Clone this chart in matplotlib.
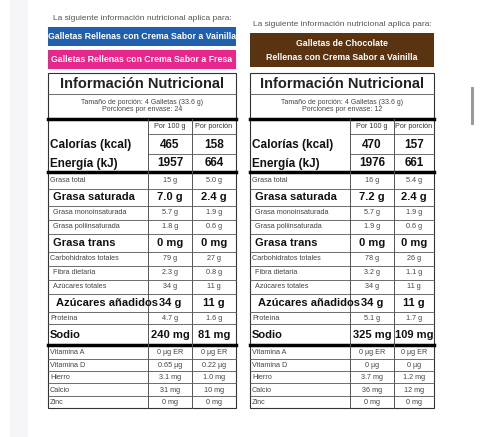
import matplotlib
matplotlib.use('Agg')
import matplotlib.pyplot as plt
from matplotlib.patches import Rectangle

plt.rcParams['font.family'] = ['Liberation Sans Narrow', 'Liberation Sans', 'DejaVu Sans']

labels = ["Grasa total", "Grasa saturada", "Grasa monoinsaturada", "Grasa poliinsaturada",
          "Grasa trans", "Carbohidratos totales", "Fibra dietaria", "Azúcares totales",
          "Azúcares añadidos", "Proteína", "Sodio"]
bold_rows = {"Grasa saturada", "Grasa trans", "Azúcares añadidos", "Sodio"}
vanilla_100 = ["15 g", "7.0 g", "5.7 g", "1.8 g", "0 mg", "79 g", "2.3 g", "34 g", "34 g", "4.7 g", "240 mg"]
vanilla_por = ["5.0 g", "2.4 g", "1.9 g", "0.6 g", "0 mg", "27 g", "0.8 g", "11 g", "11 g", "1.6 g", "81 mg"]
choco_100 = ["16 g", "7.2 g", "5.7 g", "1.9 g", "0 mg", "78 g", "3.2 g", "34 g", "34 g", "5.1 g", "325 mg"]
choco_por = ["5.4 g", "2.4 g", "1.9 g", "0.6 g", "0 mg", "26 g", "1.1 g", "11 g", "11 g", "1.7 g", "109 mg"]

vit_labels = ["Vitamina A", "Vitamina D", "Hierro", "Calcio", "Zinc"]
vanilla_vit_100 = ["0 µg ER", "0.65 µg", "3.1 mg", "31 mg", "0 mg"]
vanilla_vit_por = ["0 µg ER", "0.22 µg", "1.0 mg", "10 mg", "0 mg"]
choco_vit_100 = ["0 µg ER", "0 µg", "3.7 mg", "36 mg", "0 mg"]
choco_vit_por = ["0 µg ER", "0 µg", "1.2 mg", "12 mg", "0 mg"]

energy = {"vanilla": (("465", "158"), ("1957", "664")), "choco": (("470", "157"), ("1976", "661"))}
porciones = {"vanilla": 24, "choco": 12}

fig = plt.figure(figsize=(4.8, 4.37), dpi=100)
ax = fig.add_axes([0, 0, 1, 1])
ax.set_xlim(0, 480)
ax.set_ylim(437, 0)
ax.axis('off')
ax.add_patch(Rectangle((10, 0), 18, 437, color='#f6f6f8', lw=0))
ax.add_patch(Rectangle((471, 87), 3, 38, color='#9a9a9a', lw=0))

row_edges = [172, 189, 206, 220, 234, 252, 266, 280, 294, 312, 324, 345]
vit_edges = [345, 359, 371, 383, 396, 408]

def panel(x0, x1, c1, c2, key, v100, vpor, vv100, vvpor):
    k = 'k'
    ax.add_patch(Rectangle((x0, 73), x1 - x0, 408 - 73, fill=False, ec='#333', lw=0.8))
    ax.text((x0 + x1) / 2, 84, "Información Nutricional", ha='center', va='center',
            fontsize=10.5, fontweight='bold', color='#222')
    ax.plot([x0, x1], [94, 94], color='#555', lw=0.6)
    ax.text((x0 + x1) / 2, 102, "Tamaño de porción: 4 Galletas (33.6 g)", ha='center', va='center', fontsize=5, color='#444')
    ax.text((x0 + x1) / 2, 109.5, f"Porciones por envase: {porciones[key]}", ha='center', va='center', fontsize=5, color='#444')
    ax.plot([x0, x1], [119, 119], color=k, lw=2.5)
    ax.plot([x0, x1], [172, 172], color=k, lw=2.5)
    ax.plot([x0, x1], [345, 345], color=k, lw=2.5)
    ax.plot([c1, c1], [119, 408], color='#555', lw=0.7)
    ax.plot([c2, c2], [119, 408], color='#555', lw=0.7)
    ax.plot([c1, x1], [134, 134], color='#555', lw=0.6)
    ax.text((c1 + c2) / 2, 127, "Por 100 g", ha='center', va='center', fontsize=5.2, color='#333')
    ax.text((c2 + x1) / 2, 127, "Por porción", ha='center', va='center', fontsize=5.2, color='#333')
    for i, (lab, vals) in enumerate(zip(["Calorías (kcal)", "Energía (kJ)"], energy[key])):
        y = 145 + i * 18.5
        ax.text(x0 + 2, y, lab, ha='left', va='center', fontsize=8.5, fontweight='bold', color='#111')
        ax.text((c1 + c2) / 2, y, vals[0], ha='center', va='center', fontsize=8.5, fontweight='bold', color='#111')
        ax.text((c2 + x1) / 2, y, vals[1], ha='center', va='center', fontsize=8.5, fontweight='bold', color='#111')
    ax.plot([c1, x1], [153.5, 153.5], color='#555', lw=0.6)
    for i, lab in enumerate(labels):
        top, bot = row_edges[i], row_edges[i + 1]
        y = (top + bot) / 2
        if i > 0:
            ax.plot([x0, x1], [top, top], color='#555', lw=0.6)
        b = lab in bold_rows
        fs = 8 if b else 5.2
        indent = 2
        if lab in ("Grasa saturada", "Grasa trans"):
            indent = 5
        elif lab == "Azúcares añadidos":
            indent = 8
        elif lab.startswith("Grasa m") or lab.startswith("Grasa p") or lab in ("Fibra dietaria", "Azúcares totales"):
            indent = 5
        w = 'bold' if b else 'normal'
        col = '#111' if b else '#444'
        ax.text(x0 + indent, y, lab, ha='left', va='center', fontsize=fs, fontweight=w, color=col)
        ax.text((c1 + c2) / 2, y, v100[i], ha='center', va='center', fontsize=fs, fontweight=w, color=col)
        ax.text((c2 + x1) / 2, y, vpor[i], ha='center', va='center', fontsize=fs, fontweight=w, color=col)
    for i, lab in enumerate(vit_labels):
        top, bot = vit_edges[i], vit_edges[i + 1]
        y = (top + bot) / 2 + 0.5
        if i > 0:
            ax.plot([x0, x1], [top, top], color='#555', lw=0.6)
        ax.text(x0 + 2, y, lab, ha='left', va='center', fontsize=5.2, color='#444')
        ax.text((c1 + c2) / 2, y, vv100[i], ha='center', va='center', fontsize=5.2, color='#444')
        ax.text((c2 + x1) / 2, y, vvpor[i], ha='center', va='center', fontsize=5.2, color='#444')

ax.text(142, 18, "La siguiente información nutricional aplica para:", ha='center', va='center', fontsize=6, color='#555')
ax.add_patch(Rectangle((48, 27), 188, 19, color='#1f5fae', lw=0))
ax.text(142, 36.5, "Galletas Rellenas con Crema Sabor a Vainilla", ha='center', va='center', fontsize=6.3, fontweight='bold', color='white')
ax.add_patch(Rectangle((48, 50), 188, 19, color='#e6288c', lw=0))
ax.text(142, 59.5, "Galletas Rellenas con Crema Sabor a Fresa", ha='center', va='center', fontsize=6.3, fontweight='bold', color='white')

ax.text(342, 25, "La siguiente información nutricional aplica para:", ha='center', va='center', fontsize=6, color='#555')
ax.add_patch(Rectangle((250, 33), 184, 34, color='#5a3310', lw=0))
ax.text(342, 43, "Galletas de Chocolate", ha='center', va='center', fontsize=6.3, fontweight='bold', color='white')
ax.text(342, 57, "Rellenas con Crema Sabor a Vainilla", ha='center', va='center', fontsize=6.3, fontweight='bold', color='white')

panel(48, 236, 148, 192, "vanilla", vanilla_100, vanilla_por, vanilla_vit_100, vanilla_vit_por)
panel(250, 434, 350, 394, "choco", choco_100, choco_por, choco_vit_100, choco_vit_por)

fig.savefig("out.png", dpi=100)
